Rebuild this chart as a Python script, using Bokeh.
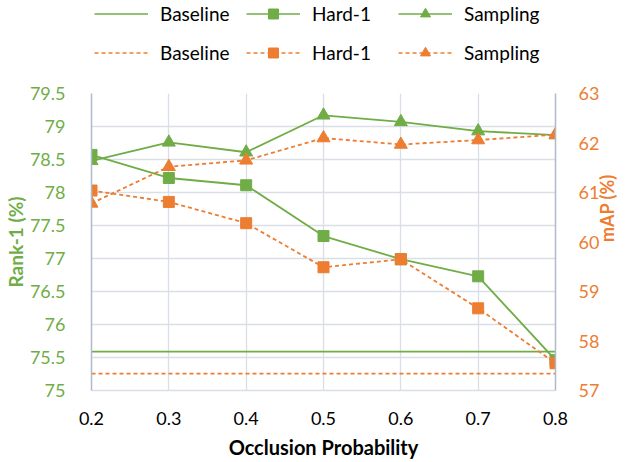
import math
from bokeh.plotting import figure
from bokeh.layouts import column
from bokeh.models import (Range1d, LinearAxis, FixedTicker, Legend, LegendItem)
from bokeh.embed import file_html
from bokeh.resources import INLINE

# ---- data ----
occlusion = [0.2, 0.3, 0.4, 0.5, 0.6, 0.7, 0.8]
rank_baseline = [75.59, 75.59, 75.59, 75.59, 75.59, 75.59, 75.59]
rank_hard1 = [78.57, 78.22, 78.11, 77.34, 76.99, 76.73, 75.46]
rank_sampling = [78.48, 78.76, 78.61, 79.17, 79.07, 78.93, 78.87]
map_baseline = [57.34, 57.34, 57.34, 57.34, 57.34, 57.34, 57.34]
map_hard1 = [61.04, 60.81, 60.38, 59.49, 59.65, 58.66, 57.55]
map_sampling = [60.78, 61.52, 61.65, 62.10, 61.97, 62.06, 62.17]

x_ticks = [0.2, 0.3, 0.4, 0.5, 0.6, 0.7, 0.8]
rank_ticks = [75.0, 75.5, 76.0, 76.5, 77.0, 77.5, 78.0, 78.5, 79.0, 79.5]
rank_tick_labels = ["75", "75.5", "76", "76.5", "77", "77.5", "78", "78.5", "79", "79.5"]
map_ticks = [57, 58, 59, 60, 61, 62, 63]
map_tick_labels = ["57", "58", "59", "60", "61", "62", "63"]
series_names = ["Baseline", "Hard-1", "Sampling"]

GREEN = "#70AD47"
ORANGE = "#ED7D31"
GRID = "#D9DEE7"
AXIS = "#AEB9CB"
FONT = "Lato"
DASH = "4 3"


def draw_series(fig, y_rank, y_map, lw=1.8, msq=11, mtri=13):
    """Draw the six series on a figure; returns legend groups per row."""
    rows = []
    for color, dash, ys, rng in ((GREEN, "solid", y_rank, "default"),
                                  (ORANGE, DASH, y_map, "map")):
        base_y, hard_y, samp_y = ys
        kw = dict(line_color=color, line_width=lw, line_dash=dash)
        mk = {}
        if rng != "default":
            kw["y_range_name"] = rng
            mk["y_range_name"] = rng
        b = fig.line(occlusion, base_y, **kw)
        hl = fig.line(occlusion, hard_y, **kw)
        hm = fig.scatter(occlusion, hard_y, marker="square", size=msq,
                         fill_color=color, line_color=color, **mk)
        sl = fig.line(occlusion, samp_y, **kw)
        sm = fig.scatter(occlusion, samp_y, marker="triangle", size=mtri,
                         fill_color=color, line_color=color, **mk)
        rows.append([[b], [hl, hm], [sl, sm]])
    return rows


p = figure(frame_width=464, frame_height=297,
           x_range=Range1d(0.2, 0.8), y_range=Range1d(75, 79.5),
           min_border_left=89, min_border_right=65,
           min_border_top=28, min_border_bottom=68,
           output_backend="svg", toolbar_location=None)
p.extra_y_ranges = {"map": Range1d(57, 63)}
p.outline_line_color = None
p.background_fill_color = "white"

# grids
p.xgrid.ticker = FixedTicker(ticks=x_ticks)
p.ygrid.ticker = FixedTicker(ticks=rank_ticks)
p.xgrid.grid_line_color = GRID
p.ygrid.grid_line_color = GRID
p.xgrid.grid_line_width = 1.3
p.ygrid.grid_line_width = 1.3

# x axis
xa = p.xaxis[0]
xa.ticker = FixedTicker(ticks=x_ticks)
xa.axis_line_color = GRID
xa.axis_line_width = 1.3
xa.major_tick_line_color = None
xa.minor_tick_line_color = None
xa.major_label_text_font = FONT
xa.major_label_text_font_size = "18px"
xa.major_label_text_color = "black"
xa.major_label_standoff = 15
xa.axis_label = "Occlusion Probability"
xa.axis_label_text_font = FONT
xa.axis_label_text_font_style = "bold"
xa.axis_label_text_font_size = "20px"
xa.axis_label_text_color = "black"
xa.axis_label_standoff = 7

# left axis
ya = p.yaxis[0]
ya.ticker = FixedTicker(ticks=rank_ticks)
ya.major_label_overrides = dict(zip(rank_ticks, rank_tick_labels))
ya.axis_line_color = AXIS
ya.axis_line_width = 1.5
ya.major_tick_line_color = None
ya.minor_tick_line_color = None
ya.major_label_text_font = FONT
ya.major_label_text_font_size = "18px"
ya.major_label_text_color = GREEN
ya.major_label_standoff = 20
ya.axis_label = "Rank-1 (%)"
ya.axis_label_text_font = FONT
ya.axis_label_text_font_style = "bold"
ya.axis_label_text_font_size = "19px"
ya.axis_label_text_color = GREEN
ya.axis_label_standoff = 0

# right axis
ra = LinearAxis(y_range_name="map", ticker=FixedTicker(ticks=map_ticks))
ra.major_label_overrides = dict(zip(map_ticks, map_tick_labels))
ra.axis_line_color = AXIS
ra.axis_line_width = 1.5
ra.major_tick_line_color = None
ra.minor_tick_line_color = None
ra.major_label_text_font = FONT
ra.major_label_text_font_size = "18px"
ra.major_label_text_color = ORANGE
ra.major_label_standoff = 17
ra.axis_label = "mAP (%)"
ra.axis_label_text_font = FONT
ra.axis_label_text_font_style = "bold"
ra.axis_label_text_font_size = "18px"
ra.axis_label_text_color = ORANGE
ra.axis_label_standoff = 5
if "axis_label_orientation" in LinearAxis.properties():
    ra.axis_label_orientation = math.pi / 2
p.add_layout(ra, "right")

draw_series(p, (rank_baseline, rank_hard1, rank_sampling),
            (map_baseline, map_hard1, map_sampling))

# ---- legend strip (separate figure above the chart, same frame width and
# borders; its copies of the series lie outside its visible ranges) ----
lg = figure(frame_width=464, frame_height=65,
            x_range=Range1d(10, 11), y_range=Range1d(10, 11),
            x_axis_type=None, y_axis_type=None,
            min_border_left=89, min_border_right=65,
            min_border_top=0, min_border_bottom=0,
            output_backend="svg", toolbar_location=None)
lg.outline_line_color = None
lg.xgrid.visible = False
lg.ygrid.visible = False
lg.extra_y_ranges = {"map": Range1d(10, 11)}
rows = draw_series(lg, (rank_baseline, rank_hard1, rank_sampling),
                   (map_baseline, map_hard1, map_sampling), lw=1.4)

items = []
for row in rows:
    for name, rs in zip(series_names, row):
        items.append(LegendItem(label=name, renderers=rs))

legend = Legend(items=items, orientation="horizontal", ncols=3,
                location=(3, 0))
legend.padding = 0
legend.margin = 0
legend.spacing = 14
legend.glyph_width = 54
legend.glyph_height = 25
legend.label_height = 25
legend.label_width = 72
legend.label_standoff = 12
legend.label_text_font = FONT
legend.label_text_font_size = "19px"
legend.label_text_color = "black"
legend.border_line_color = None
legend.background_fill_alpha = 0
lg.add_layout(legend, "center")

layout = column(lg, p, spacing=0)
open("out.html", "w").write(file_html(layout, INLINE))
